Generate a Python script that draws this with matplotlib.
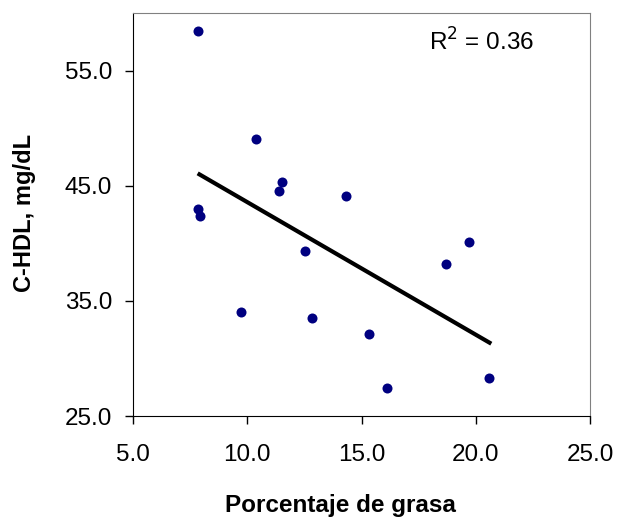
import numpy as np
import matplotlib
matplotlib.use("Agg")
import matplotlib.pyplot as plt

plt.rcParams['font.family'] = ['Liberation Sans', 'DejaVu Sans']

# Porcentaje de grasa vs C-HDL
grasa = [7.83, 10.40, 11.51, 11.40, 14.32, 7.83, 7.93, 12.53,
         19.69, 18.68, 9.74, 12.85, 15.32, 16.10, 20.58]
hdl = [58.4, 49.1, 45.35, 44.5, 44.1, 43.0, 42.4, 39.3,
       40.1, 38.2, 34.0, 33.55, 32.1, 27.45, 28.3]
x_ticks = [5.0, 10.0, 15.0, 20.0, 25.0]
y_ticks = [25.0, 35.0, 45.0, 55.0]
r2_text = "R$^2$ = 0.36"

fig = plt.figure(figsize=(6.19, 5.19), dpi=100)
ax = fig.add_axes([133 / 619, 1 - 416 / 519, 457 / 619, 403 / 519])

ax.scatter(grasa, hdl, s=52, color='#000080', zorder=3, linewidths=0)

# linear trend line
slope, intercept = np.polyfit(grasa, hdl, 1)
xs = np.array([min(grasa), max(grasa) + 0.1])
ax.plot(xs, slope * xs + intercept, color='black', lw=3, solid_capstyle='butt')

ax.set_xlim(5, 25)
ax.set_ylim(25, 60)
ax.set_xticks(x_ticks)
ax.set_yticks(y_ticks)
ax.set_xticklabels([f"{v:.1f}" for v in x_ticks])
ax.set_yticklabels([f"{v:.1f}" for v in y_ticks])
ax.tick_params(axis='both', direction='out', length=6, width=1, labelsize=17.5)
ax.tick_params(axis='x', pad=14)
ax.tick_params(axis='y', pad=9)

for side in ['top', 'right']:
    ax.spines[side].set_color('#808080')
for side in ['left', 'bottom']:
    ax.spines[side].set_color('black')

fig.text(482 / 619, 1 - 42 / 519, r2_text, fontsize=17.5, ha='center', va='center')

fig.text(340 / 619, 1 - 512 / 519, "Porcentaje de grasa", fontsize=17.5,
         fontweight='bold', ha='center', va='baseline')
fig.text(25 / 619, 1 - 213 / 519, "C-HDL, mg/dL", fontsize=17,
         fontweight='bold', ha='center', va='center', rotation=90)

fig.savefig("out.png", dpi=100)
